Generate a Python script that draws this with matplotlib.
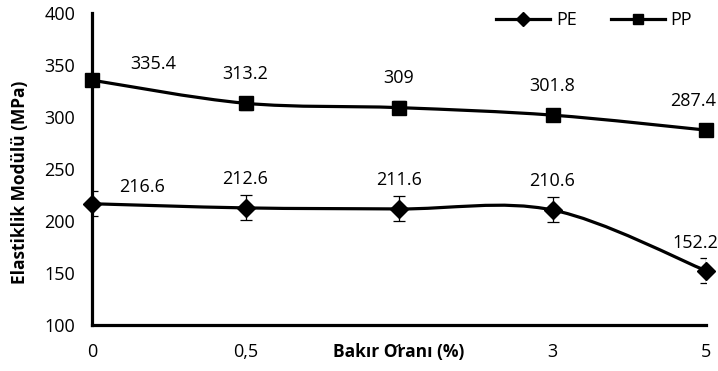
import numpy as np
import matplotlib.pyplot as plt
from matplotlib.path import Path
from matplotlib.patches import PathPatch
from matplotlib.lines import Line2D

plt.rcParams['font.family'] = ['Open Sans', 'DejaVu Sans']

# Bakır oranı (%) ve elastiklik modülü (MPa)
oranlar = ['0', '0,5', '1', '3', '5']
pe = [216.6, 212.6, 211.6, 210.6, 152.2]
pp = [335.4, 313.2, 309, 301.8, 287.4]
pe_hata = [12, 12, 12, 12, 12]
pp_hata = [6, 6, 6, 6, 6]

# etiket kaydırmaları (nokta cinsinden)
pe_kayma = [(36, 12), (0, 21), (0, 21), (0, 21), (-8, 20)]
pp_kayma = [(44, 12), (0, 21), (0, 21), (0, 21), (-9, 21)]


def yumusak_egri(x, y):
    # Excel tarzı düzgün çizgi: her aralık için kübik Bezier
    p = np.column_stack([x, y]).astype(float)
    n = len(p)
    verts = [p[0]]
    codes = [Path.MOVETO]
    for i in range(n - 1):
        onceki = p[i - 1] if i > 0 else p[i]
        sonraki = p[i + 2] if i + 2 < n else p[i + 1]
        c1 = p[i] + (p[i + 1] - onceki) / 6
        c2 = p[i + 1] - (sonraki - p[i]) / 6
        verts += [c1, c2, p[i + 1]]
        codes += [Path.CURVE4] * 3
    return Path(verts, codes)


fig = plt.figure(figsize=(7.18, 3.71), dpi=100)
ax = fig.add_axes([92 / 718, 46 / 371, 614 / 718, 312 / 371])

x = np.arange(len(oranlar))

for seri, hata, isaret, boyut, kayma in [(pe, pe_hata, 'D', 9, pe_kayma),
                                         (pp, pp_hata, 's', 9.5, pp_kayma)]:
    ax.add_patch(PathPatch(yumusak_egri(x, seri), fill=False, lw=2.3,
                           ec='black', zorder=2))
    ax.errorbar(x, seri, yerr=hata, fmt='none', ecolor='black', elinewidth=0.9,
                capsize=4.5, capthick=0.9, zorder=3)
    ax.plot(x, seri, ls='none', marker=isaret, ms=boyut, color='black',
            zorder=4, clip_on=False)
    for xi, yi, (dx, dy) in zip(x, seri, kayma):
        ax.annotate(f'{yi:g}', (xi, yi), xytext=(dx, dy), textcoords='offset points',
                    ha='center', va='center', fontsize=13)

ax.set_xlim(0, 4)
ax.set_ylim(100, 400)
ax.set_yticks(np.arange(100, 401, 50))
ax.set_xticks(x)
ax.set_xticklabels(oranlar)
ax.tick_params(axis='both', length=0, labelsize=13)
ax.tick_params(axis='y', pad=12)
ax.tick_params(axis='x', pad=13)

for s in ['top', 'right']:
    ax.spines[s].set_visible(False)
for s in ['left', 'bottom']:
    ax.spines[s].set_linewidth(2.3)

fig.text(399 / 718, 1 - 352 / 371, 'Bakır Oranı (%)', ha='center', va='center',
         fontsize=12.5, fontweight='bold')
fig.text(20 / 718, 1 - 182 / 371, 'Elastiklik Modülü (MPa)', ha='center',
         va='center', rotation=90, fontsize=12.5, fontweight='bold')

tutamaklar = [Line2D([], [], color='black', lw=2.3, marker='D', ms=7),
              Line2D([], [], color='black', lw=2.3, marker='s', ms=7.5)]
fig.legend(tutamaklar, ['PE', 'PP'], ncol=2, frameon=False, loc='center right',
           bbox_to_anchor=(692 / 718, 1 - 20 / 371), borderaxespad=0, borderpad=0,
           handlelength=3.0, handletextpad=0.3, columnspacing=1.9, fontsize=13)

fig.savefig('out.png', dpi=100)
